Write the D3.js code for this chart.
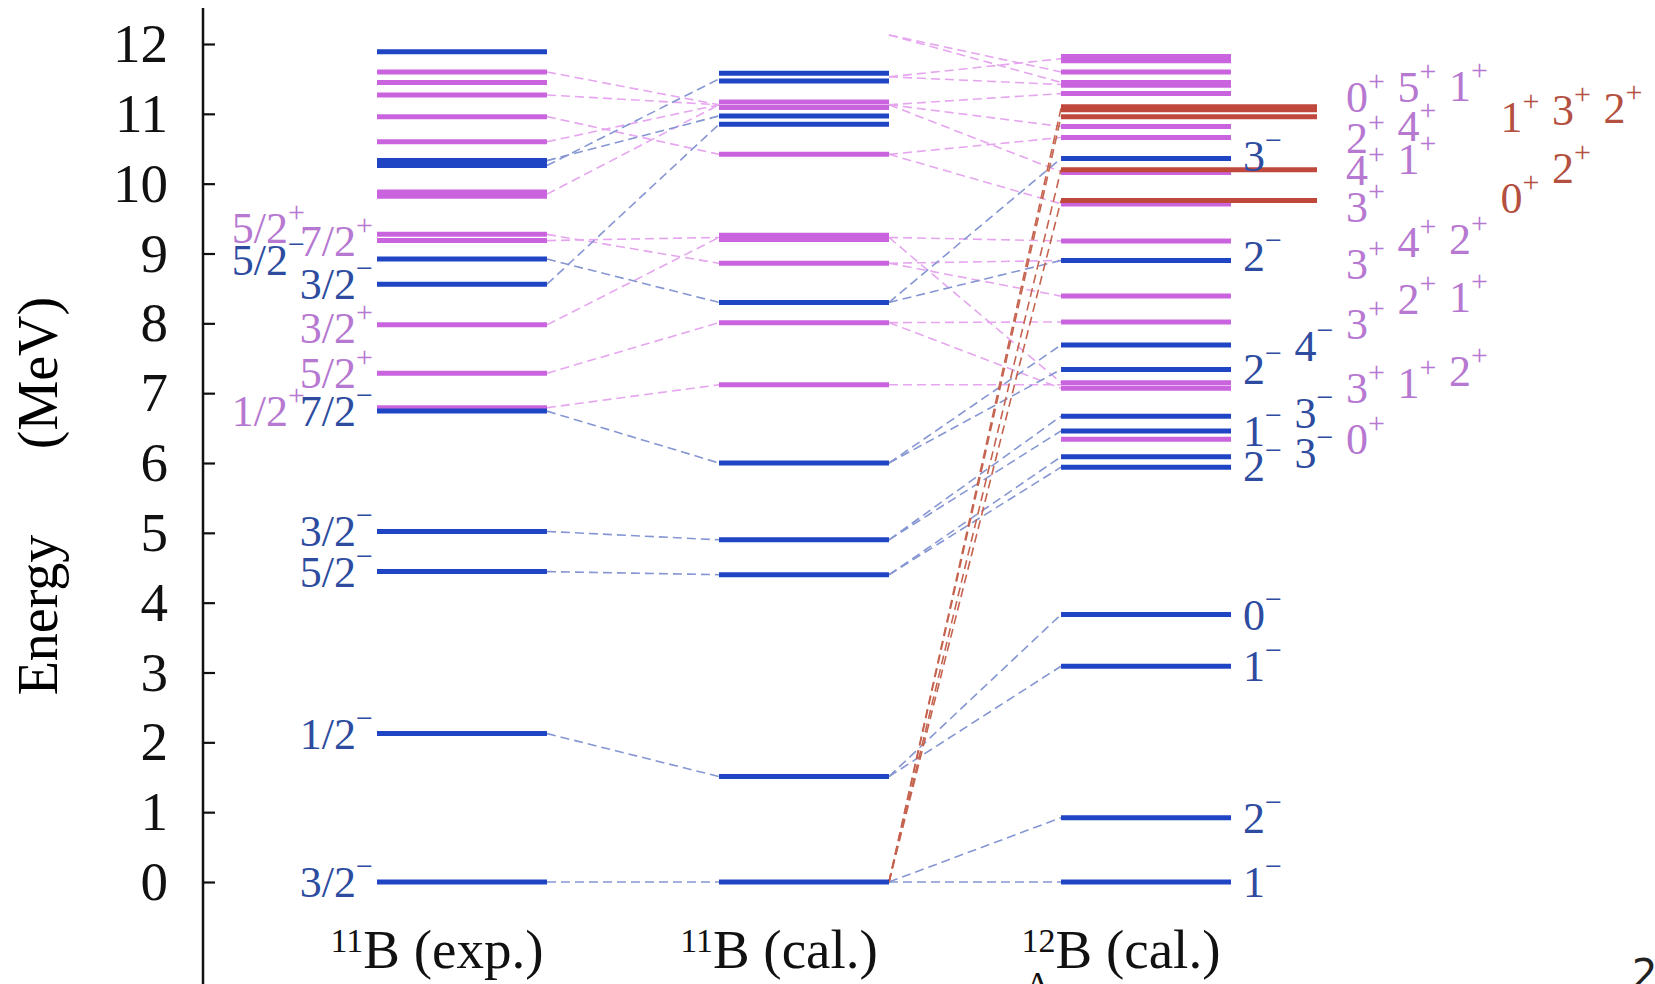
<!DOCTYPE html>
<html>
<head>
<meta charset="utf-8">
<script src="https://cdn.jsdelivr.net/npm/d3@7"></script>
<style>
  body { margin: 0; background: #fff; }
  svg { display: block; font-family: "Liberation Serif", "Times New Roman", serif; }
</style>
</head>
<body>
<div id="main"></div>
<script>
// columns of the level scheme
const colKeys = ["exp", "cal", "hyp"];
const massNumbers = ["11", "11", "12"];
const colTitles = ["B (exp.)", "B (cal.)", "B (cal.)"];

const yTicks = [0, 1, 2, 3, 4, 5, 6, 7, 8, 9, 10, 11, 12];

// level energies in MeV, split by parity (neg = blue, pos = magenta, core = red)
const expNeg = [0, 2.125, 4.445, 5.02, 6.743, 8.56, 8.92, 10.26, 10.33, 11.89];
const expPos = [6.792, 7.286, 7.978, 9.185, 9.274, 9.82, 9.88, 10.60, 10.96, 11.27, 11.45, 11.60];
const calNeg = [0, 1.51, 4.40, 4.90, 6.0, 8.30, 10.85, 10.97, 11.47, 11.58];
const calPos = [7.12, 8.01, 8.86, 9.20, 9.26, 10.42, 11.09, 11.17];
const hypNeg = [0, 0.92, 3.09, 3.83, 5.94, 6.09, 6.46, 6.67, 7.34, 7.69, 8.90, 10.36];
const hypPos = [6.34, 7.07, 7.15, 8.02, 8.39, 9.18, 9.71, 10.16, 10.66, 10.82, 11.29, 11.41, 11.45, 11.60, 11.76, 11.82];
const hypCore = [9.76, 10.20, 10.96, 11.06, 11.10];

// dashed correspondences [from E, to E]
const expCalNeg = [[0,0],[2.125,1.51],[4.445,4.40],[5.02,4.90],[6.743,6.0],[8.92,8.30],[8.56,10.85],[10.26,11.50],[10.33,10.97]];
const expCalPos = [[6.792,7.12],[7.286,8.01],[7.978,9.23],[9.185,9.23],[9.274,8.86],[9.85,11.13],[10.60,11.13],[10.96,10.42],[11.27,11.13],[11.60,11.13]];
const calHypNeg = [[0,0],[0,0.92],[1.51,3.09],[1.51,3.83],[4.40,5.94],[4.40,6.09],[4.90,6.46],[4.90,6.67],[6.0,7.34],[6.0,7.69],[8.30,8.90],[8.30,10.36]];
const calHypPos = [[12.13,11.60],[12.13,11.45],[11.53,11.79],[11.53,11.42],[11.13,11.29],[11.13,10.82],[11.13,10.17],[10.42,10.66],[10.42,9.71],[9.23,9.18],[9.23,7.15],[8.86,8.39],[8.86,8.90],[8.01,8.02],[8.01,7.07],[7.12,7.12]];
const calHypCore = [[0,9.76],[0,10.20],[0,10.96],[0,11.08]];

// spin-parity labels: [J, parity, label energy, slot, kind]
const expLabels = [
  ["3/2","−",0,0,"neg"], ["1/2","−",2.125,0,"neg"], ["5/2","−",4.445,0,"neg"], ["3/2","−",5.02,0,"neg"],
  ["7/2","−",6.75,0,"neg"], ["1/2","+",6.75,1,"pos"], ["5/2","+",7.29,0,"pos"], ["3/2","+",7.94,0,"pos"],
  ["3/2","−",8.57,0,"neg"], ["7/2","+",9.18,0,"pos"], ["5/2","−",8.90,1,"neg"], ["5/2","+",9.37,1,"pos"]
];
const hypLabels = [
  ["3","−",10.40,0,"neg"], ["2","−",8.97,0,"neg"], ["2","−",7.35,0,"neg"], ["4","−",7.68,1,"neg"],
  ["1","−",6.46,0,"neg"], ["3","−",6.72,1,"neg"], ["2","−",5.96,0,"neg"], ["3","−",6.14,1,"neg"],
  ["0","−",3.83,0,"neg"], ["1","−",3.09,0,"neg"], ["2","−",0.92,0,"neg"], ["1","−",0,0,"neg"],
  ["0","+",11.24,2,"pos"], ["5","+",11.38,3,"pos"], ["1","+",11.40,4,"pos"],
  ["2","+",10.65,2,"pos"], ["4","+",10.83,3,"pos"],
  ["4","+",10.19,2,"pos"], ["1","+",10.36,3,"pos"],
  ["3","+",9.66,2,"pos"],
  ["3","+",8.85,2,"pos"], ["4","+",9.16,3,"pos"], ["2","+",9.21,4,"pos"],
  ["3","+",7.99,2,"pos"], ["2","+",8.35,3,"pos"], ["1","+",8.37,4,"pos"],
  ["3","+",7.08,2,"pos"], ["1","+",7.15,3,"pos"], ["2","+",7.32,4,"pos"],
  ["0","+",6.35,2,"pos"],
  ["1","+",10.95,5,"core"], ["3","+",11.05,6,"core"], ["2","+",11.09,7,"core"],
  ["0","+",9.79,5,"core"], ["2","+",10.22,6,"core"]
];

const width = 1655;
const height = 984;

const barColor = {neg: "#1f45c4", pos: "#c963de", core: "#c0473b"};
const dashColor = {neg: "#8596d2", pos: "#e6a6ef", core: "#c5634f"};
const textColor = {neg: "#2d4c9f", pos: "#b678d0", core: "#b4503f"};

const svg = d3.select("#main").append("svg")
  .attr("width", width)
  .attr("height", height);

const y = d3.scaleLinear().domain([0, 12]).range([882, 44]);
const x = d3.scaleBand().domain(colKeys).range([377, 1231]).paddingInner(0.503);
const bw = x.bandwidth();

// axis
const axis = d3.axisLeft(y)
  .tickValues(yTicks)
  .tickSizeInner(-12)
  .tickSizeOuter(0)
  .tickPadding(35)
  .tickFormat(d3.format("d"));

const gAxis = svg.append("g").attr("transform", "translate(203,0)").call(axis);
gAxis.select(".domain").remove();
gAxis.selectAll(".tick line").attr("stroke", "#111").attr("stroke-width", 2.2);
gAxis.selectAll(".tick text")
  .attr("fill", "#111")
  .style("font-family", "Liberation Serif")
  .style("font-size", "55px");
svg.append("line")
  .attr("x1", 203).attr("x2", 203)
  .attr("y1", 8).attr("y2", height)
  .attr("stroke", "#111").attr("stroke-width", 2.5);

// axis title
svg.append("text")
  .attr("transform", "translate(57,615) rotate(-90)")
  .attr("text-anchor", "middle")
  .style("font-size", "56px")
  .text("Energy");
svg.append("text")
  .attr("transform", "translate(57,373) rotate(-90)")
  .attr("text-anchor", "middle")
  .style("font-size", "56px")
  .text("(MeV)");

// dashed links between columns
function drawLinks(pairs, from, to, kind) {
  svg.append("g").selectAll("line")
    .data(pairs)
    .join("line")
    .attr("x1", x(from) + bw)
    .attr("y1", d => y(d[0]))
    .attr("x2", x(to))
    .attr("y2", d => y(d[1]))
    .attr("stroke", dashColor[kind])
    .attr("stroke-width", 1.6)
    .attr("stroke-dasharray", "9,5");
}
drawLinks(expCalPos, "exp", "cal", "pos");
drawLinks(calHypPos, "cal", "hyp", "pos");
drawLinks(expCalNeg, "exp", "cal", "neg");
drawLinks(calHypNeg, "cal", "hyp", "neg");
drawLinks(calHypCore, "cal", "hyp", "core");

// levels
function drawLevels(levels, col, kind, extra) {
  svg.append("g").selectAll("line")
    .data(levels)
    .join("line")
    .attr("x1", x(col))
    .attr("x2", x(col) + bw + extra)
    .attr("y1", d => y(d))
    .attr("y2", d => y(d))
    .attr("stroke", barColor[kind])
    .attr("stroke-width", 5);
}
drawLevels(expPos, "exp", "pos", 0);
drawLevels(expNeg, "exp", "neg", 0);
drawLevels(calPos, "cal", "pos", 0);
drawLevels(calNeg, "cal", "neg", 0);
drawLevels(hypPos, "hyp", "pos", 0);
drawLevels(hypNeg, "hyp", "neg", 0);
drawLevels(hypCore, "hyp", "core", 86);

// spin labels
function drawLabels(list, col, side) {
  const t = svg.append("g").selectAll("text")
    .data(list)
    .join("text")
    .attr("x", d => side === "left" ? x(col) - 4 - d[3] * 68 : x(col) + bw + 12 + d[3] * 51.5)
    .attr("y", d => y(d[2]) + 15)
    .attr("text-anchor", side === "left" ? "end" : "start")
    .attr("fill", d => textColor[d[4]])
    .style("font-size", "44px");
  t.append("tspan").text(d => d[0]);
  t.append("tspan")
    .attr("dy", -21)
    .style("font-size", "30px")
    .text(d => d[1]);
}
drawLabels(expLabels, "exp", "left");
drawLabels(hypLabels, "hyp", "right");

// column titles
colKeys.forEach((k, i) => {
  const t = svg.append("text")
    .attr("x", x(k) + bw / 2 - 25)
    .attr("y", 968)
    .attr("text-anchor", "middle")
    .attr("fill", "#111");
  t.append("tspan").attr("dy", -16).style("font-size", "34px").text(massNumbers[i]);
  t.append("tspan").attr("dy", 16).style("font-size", "55px").text(colTitles[i]);
  if (k === "hyp") {
    const b = t.node().getBBox();
    svg.append("text")
      .attr("x", b.x + 4)
      .attr("y", 995)
      .attr("fill", "#111")
      .style("font-size", "34px")
      .text("Λ");
  }
});

// page number fragment
svg.append("text")
  .attr("x", 1632)
  .attr("y", 988)
  .attr("fill", "#222")
  .style("font-family", "DejaVu Sans")
  .style("font-size", "40px")
  .text("2");
</script>
</body>
</html>
